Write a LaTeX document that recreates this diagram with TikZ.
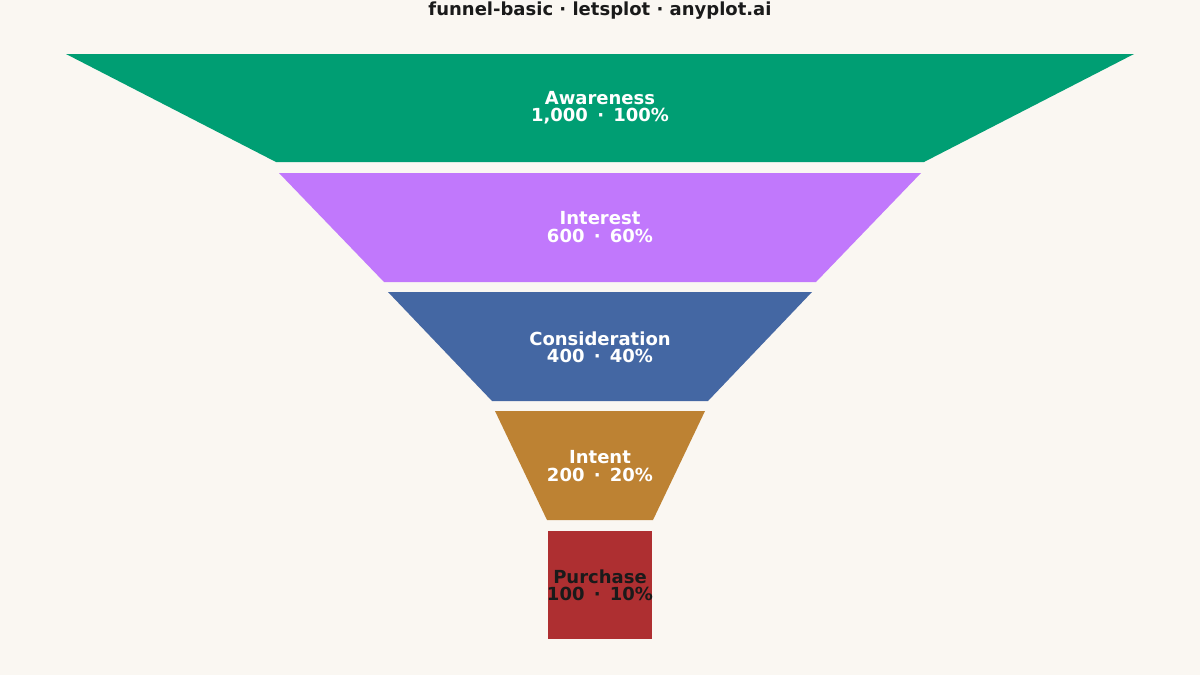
\documentclass[tikz,border=0pt]{standalone}
\usepackage{fontspec}
\setmainfont{DejaVu Sans}
\definecolor{bgcol}{HTML}{FAF7F2}
\definecolor{awarecol}{HTML}{009E73}
\definecolor{interestcol}{HTML}{C178FC}
\definecolor{considercol}{HTML}{4467A3}
\definecolor{intentcol}{HTML}{BD8233}
\definecolor{purchasecol}{HTML}{AE2F31}
\definecolor{inkcol}{HTML}{1A1A1A}
\tikzset{
	stagelabel/.style={align=center, font=\fontsize{9}{8.6}\selectfont\bfseries, inner sep=0pt},
}
\begin{document}
\begin{tikzpicture}[x=0.5pt, y=-0.5pt]
	\fill[bgcol] (0,0) rectangle (1200,675);
	\useasboundingbox (0,0) rectangle (1200,675);

	\node (title)	at	(600,11)	[font=\fontsize{9}{10}\selectfont\bfseries, text=inkcol]{funnel-basic · letsplot · anyplot.ai};

	\fill[awarecol]		(66,54) -- (1134,54) -- (924,162) -- (276,162) -- cycle;
	\fill[interestcol]	(279,173) -- (921,173) -- (816,282) -- (384,282) -- cycle;
	\fill[considercol]	(388,292) -- (812,292) -- (708,401) -- (492,401) -- cycle;
	\fill[intentcol]	(495,411) -- (705,411) -- (653,520) -- (547,520) -- cycle;
	\fill[purchasecol]	(548,531) rectangle (652,639);

	\node (awareness)	at	(600,108)	[stagelabel, text=white]{Awareness\\1,000 \,·\, 100\%};
	\node (interest)	at	(600,227)	[stagelabel, text=white]{Interest\\600 \,·\, 60\%};
	\node (consider)	at	(600,347)	[stagelabel, text=white]{Consideration\\400 \,·\, 40\%};
	\node (intent)		at	(600,466)	[stagelabel, text=white]{Intent\\200 \,·\, 20\%};
	\node (purchase)	at	(600,585)	[stagelabel, text=inkcol]{Purchase\\100 \,·\, 10\%};

\end{tikzpicture}
\end{document}
